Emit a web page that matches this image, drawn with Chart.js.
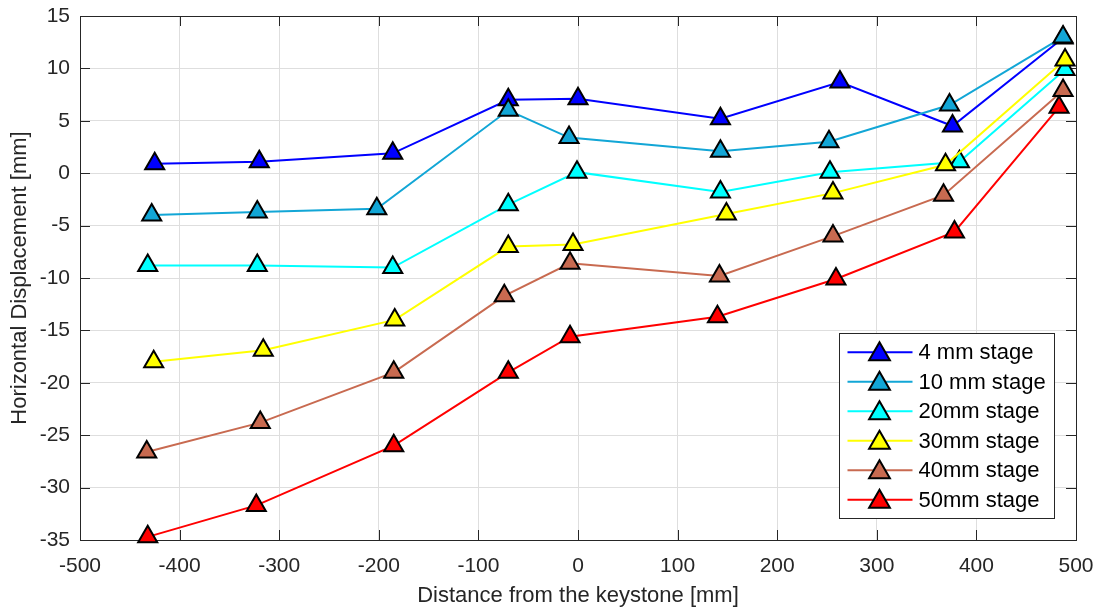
<!DOCTYPE html>
<html>
<head>
<meta charset="utf-8">
<script src="https://cdn.jsdelivr.net/npm/chart.js@4.4.0/dist/chart.umd.min.js"></script>
<style>
html,body{margin:0;padding:0;background:#fff;}
</style>
</head>
<body>
<canvas id="myChart" width="1100" height="609"></canvas>
<script>
// values (x in mm from keystone, y = horizontal displacement in mm)
var stageNames = ['4 mm stage', '10 mm stage', '20mm stage', '30mm stage', '40mm stage', '50mm stage'];
var stageColors = ['#0000ff', '#12a6d6', '#00ffff', '#ffff00', '#c86a50', '#ff0000'];

var stage4X = [-425, -320, -186, -70, 0, 143, 263, 376, 487];
var stage4Y = [0.9, 1.1, 1.9, 7.0, 7.1, 5.2, 8.7, 4.5, 12.9];
var stage10X = [-428, -322, -202, -70, -9, 143, 252, 373, 487];
var stage10Y = [-4.0, -3.7, -3.4, 6.0, 3.4, 2.1, 3.0, 6.5, 13.0];
var stage20X = [-432, -322, -186, -70, -1, 143, 253, 383, 489];
var stage20Y = [-8.8, -8.8, -9.0, -3.0, 0.1, -1.8, 0.1, 1.1, 9.9];
var stage30X = [-426, -316, -184, -70, -5, 149, 256, 369, 489];
var stage30Y = [-18.0, -16.9, -14.0, -7.0, -6.8, -3.9, -1.9, 0.8, 10.8];
var stage40X = [-433, -319, -185, -74, -8, 142, 256, 367, 487];
var stage40Y = [-26.6, -23.8, -19.0, -11.7, -8.6, -9.8, -6.0, -2.1, 7.9];
var stage50X = [-432, -323, -185, -70, -8, 140, 259, 378, 483];
var stage50Y = [-34.7, -31.7, -26.0, -19.0, -15.6, -13.7, -10.1, -5.6, 6.3];

var xTicks = [-500, -400, -300, -200, -100, 0, 100, 200, 300, 400, 500];
var yTicks = [-35, -30, -25, -20, -15, -10, -5, 0, 5, 10, 15];

var allX = [stage4X, stage10X, stage20X, stage30X, stage40X, stage50X];
var allY = [stage4Y, stage10Y, stage20Y, stage30Y, stage40Y, stage50Y];

var FONT = '"Liberation Sans", Arial, Helvetica, sans-serif';
var INK = '#262626';

function pts(xs, ys) {
    var out = [];
    for (var i = 0; i < xs.length; i++) out.push({x: xs[i], y: ys[i]});
    return out;
}

var sets = [];
for (var i = 0; i < stageNames.length; i++) {
    sets.push({
        label: stageNames[i],
        data: pts(allX[i], allY[i]),
        borderColor: stageColors[i],
        backgroundColor: stageColors[i],
        borderWidth: 2,
        pointStyle: 'triangle',
        pointRadius: 11,
        pointHoverRadius: 11,
        pointBorderColor: '#000',
        pointBorderWidth: 2,
        pointBackgroundColor: stageColors[i],
        tension: 0,
        clip: false,
        order: stageNames.length - i   // later stages on top, like the original
    });
}

// box + inward ticks, matlab style
var axesFrame = {
    id: 'axesFrame',
    beforeDatasetsDraw: function(chart) {
        var ctx = chart.ctx, a = chart.chartArea;
        var xs = chart.scales.x, ys = chart.scales.y;
        ctx.save();
        ctx.strokeStyle = INK;
        ctx.lineWidth = 1;
        ctx.beginPath();
        xTicks.forEach(function(v) {
            var px = Math.round(xs.getPixelForValue(v)) + 0.5;
            ctx.moveTo(px, a.bottom); ctx.lineTo(px, a.bottom - 10);
            ctx.moveTo(px, a.top); ctx.lineTo(px, a.top + 10);
        });
        yTicks.forEach(function(v) {
            var py = Math.round(ys.getPixelForValue(v)) + 0.5;
            ctx.moveTo(a.left, py); ctx.lineTo(a.left + 10, py);
            ctx.moveTo(a.right, py); ctx.lineTo(a.right - 10, py);
        });
        ctx.stroke();
        ctx.strokeRect(Math.round(a.left) + 0.5, Math.round(a.top) + 0.5, Math.round(a.right - a.left), Math.round(a.bottom - a.top));
        ctx.restore();
    }
};

var legendBox = {
    id: 'legendBox',
    afterDraw: function(chart) {
        var ctx = chart.ctx, a = chart.chartArea;
        var ds = chart.data.datasets;
        var w = 215, rowH = 29.5;
        var h = ds.length * rowH + 8;
        var x0 = Math.round(a.right - 22 - w) + 0.5;
        var y0 = Math.round(a.bottom - 22 - h) + 0.5;
        ctx.save();
        ctx.fillStyle = '#fff';
        ctx.fillRect(x0, y0, w, h);
        ctx.strokeStyle = INK;
        ctx.lineWidth = 1;
        ctx.strokeRect(x0, y0, w, h);
        ctx.font = '22px ' + FONT;
        ctx.textBaseline = 'middle';
        ctx.textAlign = 'left';
        for (var i = 0; i < ds.length; i++) {
            var cy = y0 + 4 + rowH * (i + 0.5);
            ctx.strokeStyle = ds[i].borderColor;
            ctx.lineWidth = 2;
            ctx.beginPath();
            ctx.moveTo(x0 + 8, cy); ctx.lineTo(x0 + 73, cy);
            ctx.stroke();
            ctx.fillStyle = ds[i].pointBackgroundColor;
            ctx.strokeStyle = '#000';
            ctx.lineWidth = 2;
            Chart.helpers.drawPoint(ctx, {pointStyle: 'triangle', radius: 12, borderWidth: 2, rotation: 0}, x0 + 40, cy + 2);
            ctx.fillStyle = '#000';
            ctx.fillText(ds[i].label, x0 + 79, cy + 1);
        }
        ctx.restore();
    }
};

var ctx = document.getElementById('myChart').getContext('2d');
var chart = new Chart(ctx, {
    type: 'line',
    data: {datasets: sets},
    options: {
        responsive: false,
        animation: false,
        devicePixelRatio: 1,
        layout: {padding: {left: 0, right: 24, top: 16, bottom: 0}},
        plugins: {legend: {display: false}, tooltip: {enabled: false}},
        scales: {
            x: {
                type: 'linear',
                min: -500, max: 500,
                afterBuildTicks: function(s) { s.ticks = xTicks.map(function(v) { return {value: v}; }); },
                afterFit: function(s) { s.height = 69; s.paddingLeft = 0; s.paddingRight = 0; },
                grid: {color: '#dedede', lineWidth: 1, drawTicks: false},
                border: {display: false},
                ticks: {color: INK, font: {family: FONT, size: 21}, padding: 14, maxRotation: 0},
                title: {display: true, text: 'Distance from the keystone [mm]', color: INK, font: {family: FONT, size: 22}, padding: {top: 0, bottom: 0}}
            },
            y: {
                type: 'linear',
                min: -35, max: 15,
                afterBuildTicks: function(s) { s.ticks = yTicks.map(function(v) { return {value: v}; }); },
                afterFit: function(s) { s.width = 80; s.paddingTop = 0; s.paddingBottom = 0; },
                grid: {color: '#dedede', lineWidth: 1, drawTicks: false},
                border: {display: false},
                ticks: {color: INK, font: {family: FONT, size: 21}, padding: 10},
                title: {display: true, text: 'Horizontal Displacement [mm]', color: INK, font: {family: FONT, size: 22}, padding: {top: 7, bottom: 0}}
            }
        }
    },
    plugins: [axesFrame, legendBox]
});
</script>
</body>
</html>
